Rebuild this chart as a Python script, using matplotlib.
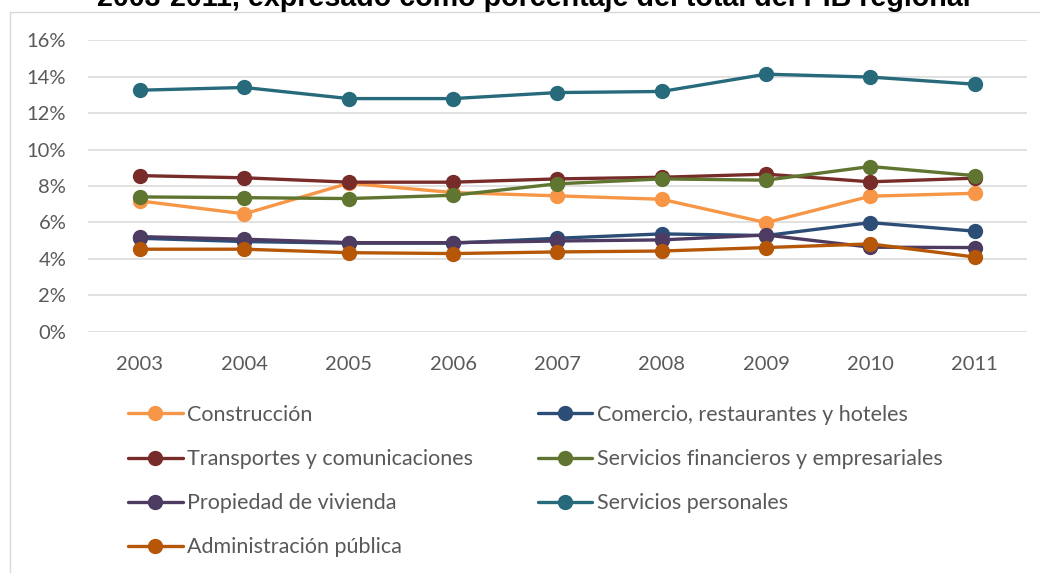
import matplotlib
matplotlib.use("Agg")
import matplotlib.pyplot as plt
from matplotlib.ticker import FuncFormatter, MultipleLocator
from matplotlib.patches import Rectangle

years = ["2003", "2004", "2005", "2006", "2007", "2008", "2009", "2010", "2011"]

construccion = [7.18, 6.47, 8.15, 7.64, 7.46, 7.27, 5.99, 7.44, 7.60]
comercio = [5.13, 4.95, 4.86, 4.86, 5.13, 5.37, 5.28, 5.99, 5.52]
transportes = [8.57, 8.45, 8.21, 8.21, 8.39, 8.48, 8.65, 8.23, 8.43]
financieros = [7.40, 7.36, 7.31, 7.49, 8.12, 8.39, 8.32, 9.07, 8.57]
vivienda = [5.22, 5.08, 4.89, 4.89, 4.98, 5.04, 5.31, 4.64, 4.62]
personales = [13.26, 13.41, 12.80, 12.80, 13.13, 13.19, 14.14, 13.98, 13.59]
administracion = [4.53, 4.53, 4.34, 4.29, 4.38, 4.43, 4.62, 4.82, 4.10]

series = [
    ("Construcción", construccion, "#F79646"),
    ("Comercio, restaurantes y hoteles", comercio, "#2C4D75"),
    ("Transportes y comunicaciones", transportes, "#772C2A"),
    ("Servicios financieros y empresariales", financieros, "#5F7530"),
    ("Propiedad de vivienda", vivienda, "#4D3B62"),
    ("Servicios personales", personales, "#276A7C"),
    ("Administración pública", administracion, "#B65708"),
]

title = "2003-2011, expresado como porcentaje del total del PIB regional"

plt.rcParams["font.family"] = ["Lato", "DejaVu Sans"]

W, H = 1040, 573
fig = plt.figure(figsize=(W / 100, H / 100), dpi=100)
fig.patch.set_facecolor("white")

# chart-area frame
fig.add_artist(Rectangle((9.5 / W, -0.01), 1.1, 1 - 12 / H + 0.01,
                         transform=fig.transFigure, fill=False,
                         edgecolor="#D9D9D9", linewidth=1))

left, right = 87.8 / W, 1026.9 / W
top, bottom = 1 - 40.3 / H, 1 - 331.7 / H
ax = fig.add_axes([left, bottom, right - left, top - bottom])

x = list(range(len(years)))
handles = {}
for name, vals, color in series:
    (ln,) = ax.plot(x, [v / 100 for v in vals], color=color, linewidth=2.4,
                    marker="o", markersize=10, label=name, solid_capstyle="round",
                    clip_on=False)
    handles[name] = ln

ax.set_xlim(-0.5, len(years) - 0.5)
ax.set_ylim(0, 0.16)
ax.yaxis.set_major_locator(MultipleLocator(0.02))
ax.yaxis.set_major_formatter(FuncFormatter(lambda v, p: f"{v * 100:.0f}%"))
ax.set_xticks(x)
ax.set_xticklabels(years)
ax.grid(axis="y", color="#D9D9D9", linewidth=1.1)
ax.set_axisbelow(True)
for s in ax.spines.values():
    s.set_visible(False)
ax.tick_params(axis="both", length=0, labelsize=14.5, labelcolor="#595959")
ax.tick_params(axis="x", pad=17.5)
ax.tick_params(axis="y", pad=15.5)

fig.text(534 / W, 1 - 6 / H, title, ha="center", va="baseline",
         fontsize=20.6, fontweight="bold", family="Liberation Sans", color="black")

order = ["Construcción", "Transportes y comunicaciones", "Propiedad de vivienda",
         "Administración pública", "Comercio, restaurantes y hoteles",
         "Servicios financieros y empresariales", "Servicios personales"]
fig.legend([handles[n] for n in order], order, ncol=2, loc="upper left",
           bbox_to_anchor=(128 / W, 1 - 405 / H), frameon=False,
           fontsize=15.5, labelcolor="#595959", handlelength=2.55,
           handletextpad=0.19, columnspacing=3.0, labelspacing=1.12,
           borderaxespad=0, borderpad=0)

fig.savefig("out.png", dpi=100, facecolor="white")
